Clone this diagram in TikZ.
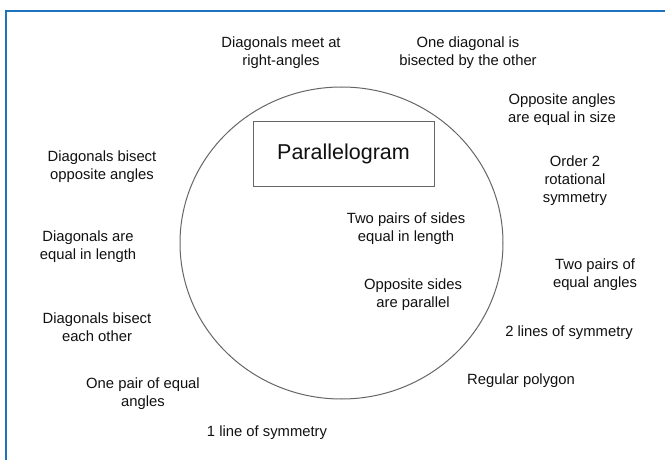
\documentclass[tikz,border=0pt]{standalone}
\usepackage{fontspec}
\setmainfont{Liberation Sans}
\definecolor{frameblue}{HTML}{1E73BE}
\definecolor{inkgray}{HTML}{111111}
\definecolor{linegray}{HTML}{666666}
\begin{document}
\begin{tikzpicture}[x=1pt,y=-1pt,
  prop/.style={text=inkgray,align=center,inner sep=0pt,
    font=\fontsize{14.8}{18}\selectfont},
  titlebox/.style={draw=linegray,line width=1pt,minimum width=181pt,
    minimum height=64pt,inner sep=0pt,text=inkgray,
    font=\fontsize{21.5}{24}\selectfont}]
\useasboundingbox (0,0) rectangle (665,460);
\fill[white] (0,0) rectangle (665,460);
% blue frame along the top and left edges
\draw[frameblue,line width=2.2pt] (6,460) -- (6,11) -- (665,11);
% the set boundary
\draw[linegray,line width=1pt] (341.5,243) ellipse [x radius=161.5,y radius=156];
\node[titlebox] (title) at (343.5,154) {Parallelogram};
% properties inside the set
\node[prop] (p14) at (406,229) {Two pairs of sides\\equal in length};
\node[prop] (p15) at (413,295) {Opposite sides\\are parallel};
% properties outside the set
\node[prop] (p1) at (281,53) {Diagonals meet at\\right-angles};
\node[prop] (p2) at (468,53) {One diagonal is\\bisected by the other};
\node[prop] (p3) at (562,110) {Opposite angles\\are equal in size};
\node[prop] (p4) at (575,181) {Order 2\\rotational\\symmetry};
\node[prop] (p5) at (595,275) {Two pairs of\\equal angles};
\node[prop] (p6) at (569,333) {2 lines of symmetry};
\node[prop] (p7) at (521,381) {Regular polygon};
\node[prop] (p8) at (267,433) {1 line of symmetry};
\node[prop] (p9) at (143,394) {One pair of equal\\angles};
\node[prop] (p10) at (97,327) {Diagonals bisect\\each other};
\node[prop] (p11) at (88,247) {Diagonals are\\equal in length};
\node[prop] (p12) at (102,167) {Diagonals bisect\\opposite angles};
\end{tikzpicture}
\end{document}
